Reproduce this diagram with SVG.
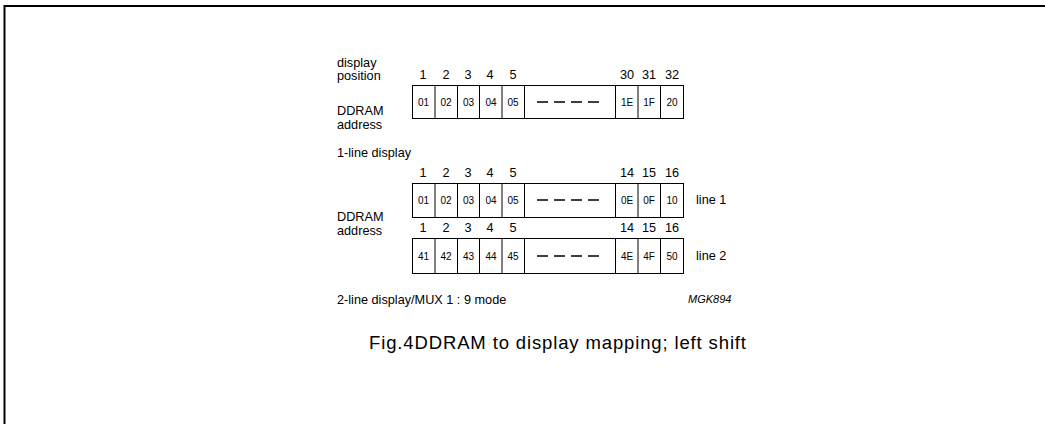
<svg xmlns="http://www.w3.org/2000/svg" width="1045" height="424" viewBox="0 0 1045 424">
<style>
text{font-family:"Liberation Sans",Arial,sans-serif;fill:#000}
.lbl{font-size:12.7px}
.num{font-size:12.7px;text-anchor:middle}
.cell{font-size:10px;text-anchor:middle}
.box{fill:#fff;stroke:#000;stroke-width:1}
.sep{stroke:#000;stroke-width:1}
.dash{stroke:#000;stroke-width:1.3}
</style>
<rect width="1045" height="424" fill="#fff"/>
<path d="M4.5,424 V6 H1045" fill="none" stroke="#000" stroke-width="2"/>

<g id="labels">
<text class="lbl" x="337" y="67">display</text>
<text class="lbl" x="337" y="80">position</text>
<text class="lbl" x="337" y="115">DDRAM</text>
<text class="lbl" x="337" y="129">address</text>
<text class="lbl" x="337" y="157">1-line display</text>
<text class="lbl" x="337" y="221">DDRAM</text>
<text class="lbl" x="337" y="235">address</text>
<text class="lbl" x="337" y="304">2-line display/MUX 1 : 9 mode</text>
<text x="688" y="303" style="font-size:11px;font-style:italic">MGK894</text>
<text x="369" y="349" style="font-size:18.5px" textLength="377" lengthAdjust="spacing">Fig.4DDRAM to display mapping; left shift</text>
</g>

<g id="row1">
<text class="num" x="423" y="79">1</text><text class="num" x="446" y="79">2</text><text class="num" x="468" y="79">3</text><text class="num" x="490" y="79">4</text><text class="num" x="513" y="79">5</text>
<text class="num" x="627" y="79">30</text><text class="num" x="649" y="79">31</text><text class="num" x="672" y="79">32</text>
<rect class="box" x="412.5" y="85.5" width="271" height="33"/>
<path class="sep" d="M435,85.5V118.5M457.5,85.5V118.5M479.5,85.5V118.5M502,85.5V118.5M524.5,85.5V118.5M615.5,85.5V118.5M638,85.5V118.5M660.5,85.5V118.5"/>
<text class="cell" x="423.5" y="106">01</text><text class="cell" x="446" y="106">02</text><text class="cell" x="468.5" y="106">03</text><text class="cell" x="491" y="106">04</text><text class="cell" x="513" y="106">05</text>
<text class="cell" x="627" y="106">1E</text><text class="cell" x="649" y="106">1F</text><text class="cell" x="672" y="106">20</text>
<path class="dash" d="M537,102h11M554,102h11M571,102h11M588,102h11"/>
</g>

<g id="row2">
<text class="num" x="423" y="177">1</text><text class="num" x="446" y="177">2</text><text class="num" x="468" y="177">3</text><text class="num" x="490" y="177">4</text><text class="num" x="513" y="177">5</text>
<text class="num" x="627" y="177">14</text><text class="num" x="649" y="177">15</text><text class="num" x="672" y="177">16</text>
<rect class="box" x="412.5" y="183.5" width="271" height="34"/>
<path class="sep" d="M435,183.5V217.5M457.5,183.5V217.5M479.5,183.5V217.5M502,183.5V217.5M524.5,183.5V217.5M615.5,183.5V217.5M638,183.5V217.5M660.5,183.5V217.5"/>
<text class="cell" x="423.5" y="204">01</text><text class="cell" x="446" y="204">02</text><text class="cell" x="468.5" y="204">03</text><text class="cell" x="491" y="204">04</text><text class="cell" x="513" y="204">05</text>
<text class="cell" x="627" y="204">0E</text><text class="cell" x="649" y="204">0F</text><text class="cell" x="672" y="204">10</text>
<path class="dash" d="M537,200h11M554,200h11M571,200h11M588,200h11"/>
<text class="lbl" x="696" y="204">line 1</text>
</g>

<g id="row3">
<text class="num" x="423" y="232">1</text><text class="num" x="446" y="232">2</text><text class="num" x="468" y="232">3</text><text class="num" x="490" y="232">4</text><text class="num" x="513" y="232">5</text>
<text class="num" x="627" y="232">14</text><text class="num" x="649" y="232">15</text><text class="num" x="672" y="232">16</text>
<rect class="box" x="412.5" y="238.5" width="271" height="35"/>
<path class="sep" d="M435,238.5V273.5M457.5,238.5V273.5M479.5,238.5V273.5M502,238.5V273.5M524.5,238.5V273.5M615.5,238.5V273.5M638,238.5V273.5M660.5,238.5V273.5"/>
<text class="cell" x="423.5" y="260">41</text><text class="cell" x="446" y="260">42</text><text class="cell" x="468.5" y="260">43</text><text class="cell" x="491" y="260">44</text><text class="cell" x="513" y="260">45</text>
<text class="cell" x="627" y="260">4E</text><text class="cell" x="649" y="260">4F</text><text class="cell" x="672" y="260">50</text>
<path class="dash" d="M537,256h11M554,256h11M571,256h11M588,256h11"/>
<text class="lbl" x="696" y="260">line 2</text>
</g>
<g id="connectors"/>
</svg>
